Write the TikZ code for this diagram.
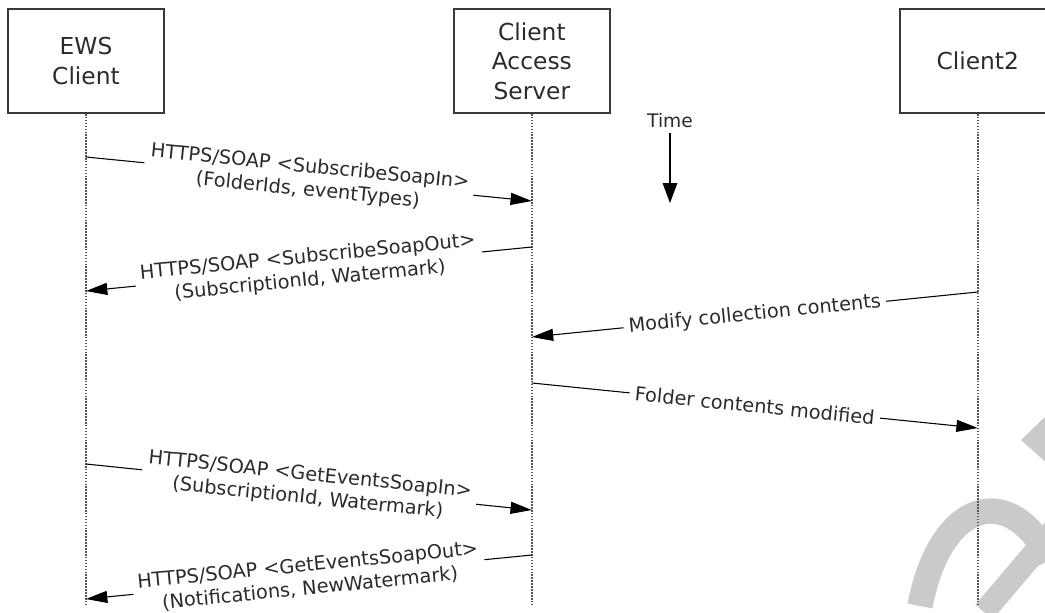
\documentclass[tikz,border=0pt]{standalone}
\usepackage{fontspec}
\setmainfont{DejaVu Sans}
\usetikzlibrary{arrows.meta, positioning}
\definecolor{cBox}{HTML}{3A3A3A}
\definecolor{cText}{HTML}{2B2B2B}
\definecolor{cLife}{HTML}{555555}
\definecolor{cMark}{HTML}{CACACA}

\begin{document}
\begin{tikzpicture}[x=0.75pt, y=-0.75pt,
  actor/.style={draw=cBox, line width=1.4pt, minimum width=117pt, minimum height=78pt, align=center, text=cText, font=\fontsize{17.5}{22}\selectfont},
  life/.style={cLife, line width=1.4pt, dash pattern=on 1.2pt off 1pt},
  msg/.style={-{Triangle[length=16pt, width=9pt]}, line width=0.8pt},
  lbl/.style={sloped, midway, fill=white, inner xsep=4pt, inner ysep=0pt, align=center, text=cText, font=\fontsize{14.5}{17.5}\selectfont}
]
\useasboundingbox (0,0) rectangle (1045,612);
% watermark
\fill[cMark] (1021,440) -- (1050,412) -- (1050,466) -- cycle;
\draw[cMark, line width=19pt] (920,606) .. controls (940,500) and (1010,480) .. (1050,560);
\draw[cMark, line width=17pt] (1062,520) -- (984,612);

\node[actor] (ews) at (86,61) {EWS\\Client};
\node[actor, right=216pt of ews] (cas) {Client\\Access\\Server};
\node[actor, right=216pt of cas] (cl2) {Client2};

\coordinate (ewsend) at (ews.south |- 0,604);
\coordinate (casend) at (cas.south |- 0,604);
\coordinate (cl2end) at (cl2.south |- 0,604);
\draw[life] (ews.south) -- (ewsend);
\draw[life] (cas.south) -- (casend);
\draw[life] (cl2.south) -- (cl2end);

\node[text=cText, font=\fontsize{14}{16}\selectfont] (time) at (670,121) {Time};
\coordinate (timeend) at (670,203);
\draw[-{Triangle[length=15pt, width=11pt]}, line width=0.8pt] (time.south) -- (timeend);

\coordinate (e1) at (ews.south |- 0,157);
\coordinate (s1) at (cas.south |- 0,201);
\coordinate (s2) at (cas.south |- 0,247);
\coordinate (e2) at (ews.south |- 0,291);
\coordinate (c3) at (cl2.south |- 0,292);
\coordinate (s3) at (cas.south |- 0,337);
\coordinate (s4) at (cas.south |- 0,383);
\coordinate (c4) at (cl2.south |- 0,428);
\coordinate (e5) at (ews.south |- 0,464);
\coordinate (s5) at (cas.south |- 0,510);
\coordinate (s6) at (cas.south |- 0,555);
\coordinate (e6) at (ews.south |- 0,599);

\draw[msg] (e1) -- node[lbl] {HTTPS/SOAP <SubscribeSoapIn>\\(FolderIds, eventTypes)} (s1);
\draw[msg] (s2) -- node[lbl] {HTTPS/SOAP <SubscribeSoapOut>\\(SubscriptionId, Watermark)} (e2);
\draw[msg] (c3) -- node[lbl] {Modify collection contents} (s3);
\draw[msg] (s4) -- node[lbl] {Folder contents modified} (c4);
\draw[msg] (e5) -- node[lbl] {HTTPS/SOAP <GetEventsSoapIn>\\(SubscriptionId, Watermark)} (s5);
\draw[msg] (s6) -- node[lbl] {HTTPS/SOAP <GetEventsSoapOut>\\(Notifications, NewWatermark)} (e6);
\end{tikzpicture}
\end{document}
